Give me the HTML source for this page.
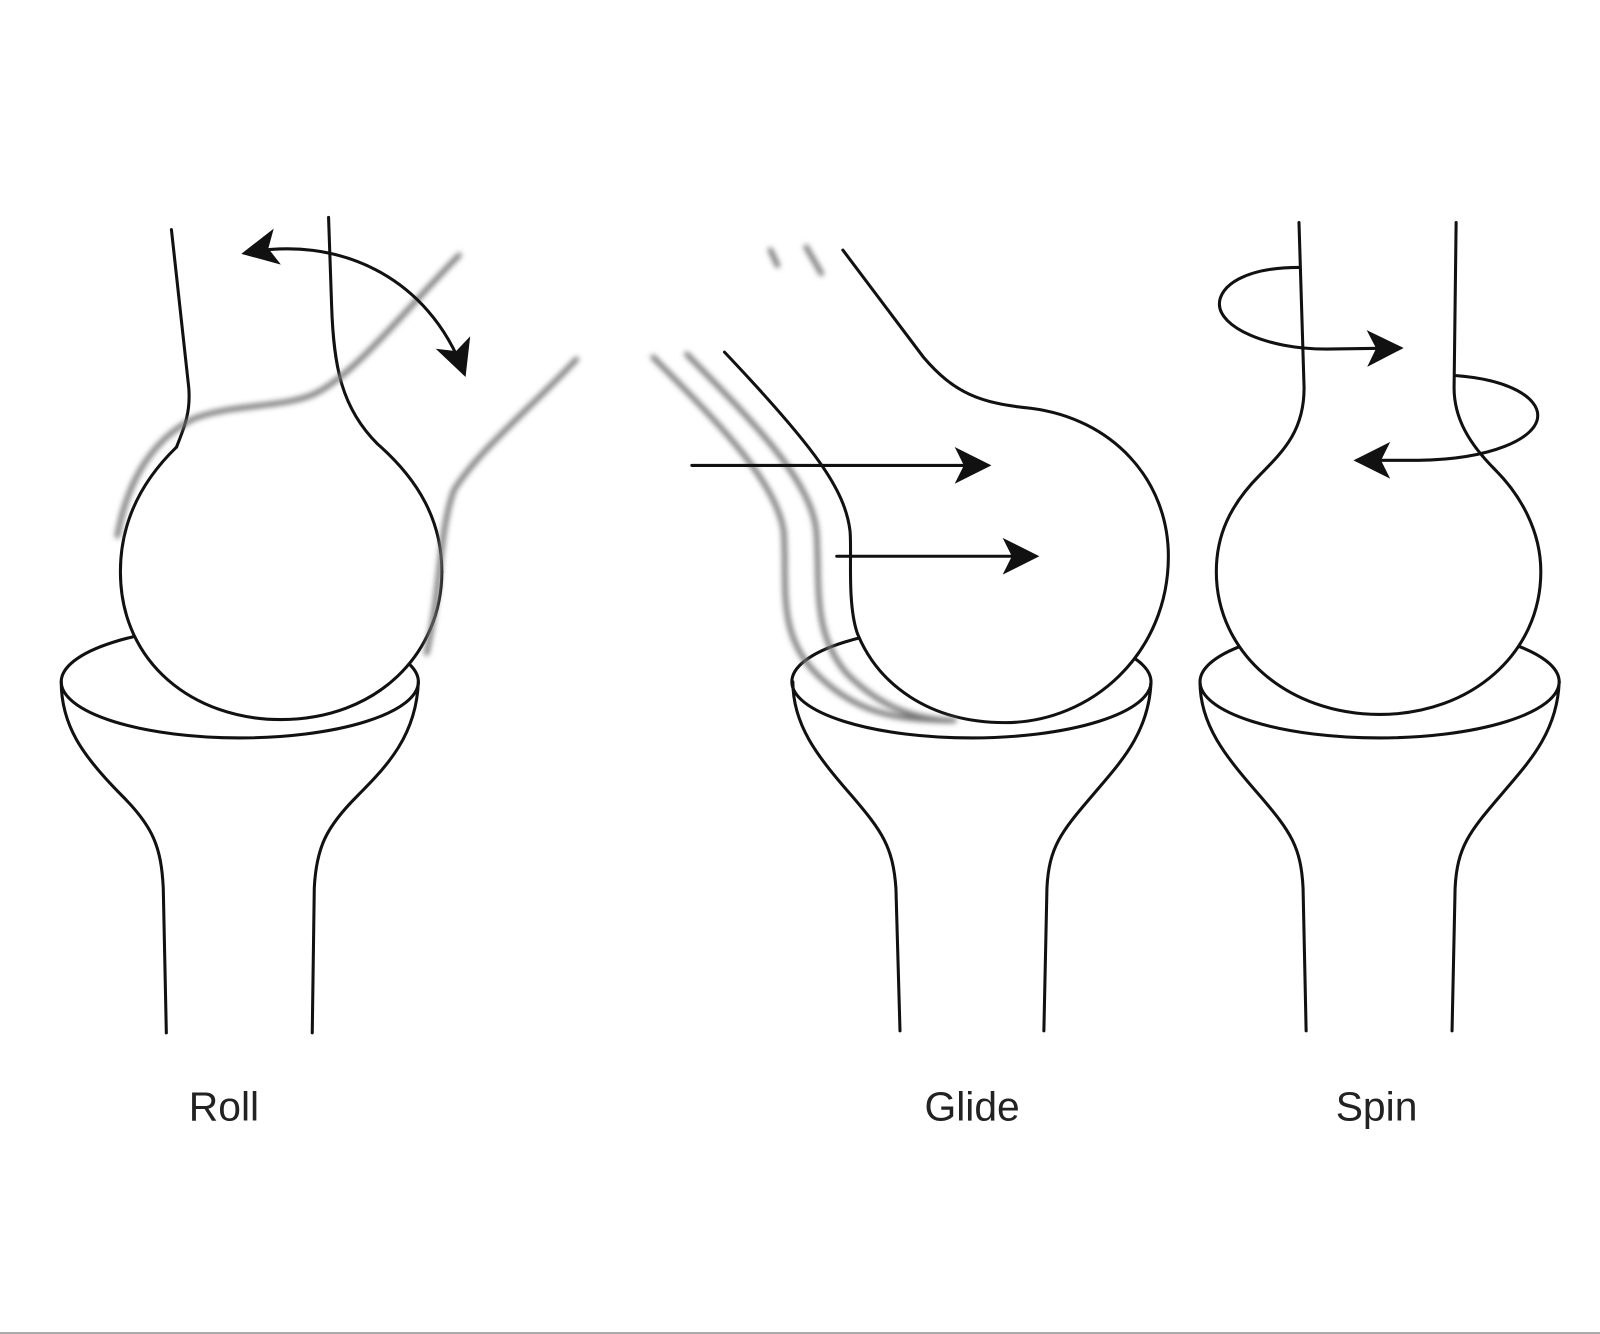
<!DOCTYPE html>
<html><head><meta charset="utf-8"><style>
html,body{margin:0;padding:0;background:#fff;}
svg{display:block;}
text{font-family:"Liberation Sans",sans-serif;font-size:40px;fill:#222;}
</style></head><body>
<svg width="1600" height="1334" viewBox="0 0 1568 1307" preserveAspectRatio="none" xmlns="http://www.w3.org/2000/svg">
<defs>
<filter id="b" x="-20%" y="-20%" width="140%" height="140%"><feGaussianBlur stdDeviation="2.5"/></filter>
<marker id="ah" viewBox="0 0 10 10" refX="9" refY="5" markerWidth="44" markerHeight="36" orient="auto-start-reverse" markerUnits="userSpaceOnUse"><path d="M0,0 L10,5 L0,10 L2.5,5 z" fill="#111"/></marker>
</defs>
<rect width="1568" height="1307" fill="#fff"/>
<line x1="0" y1="1306" x2="1568" y2="1306" stroke="#aaa" stroke-width="2"/>
<g fill="none" stroke="#111" stroke-width="3" stroke-linecap="round">
<!-- bases -->
<ellipse cx="235" cy="668" rx="175" ry="55"/>
<path d="M60,668 C60,710 80,740 120,780 C150,810 158,830 160,870 L163,1012"/>
<path d="M410,668 C408,720 380,750 350,780 C320,810 310,830 308,870 L306,1012"/>
<ellipse cx="952" cy="668" rx="176" ry="55"/>
<path d="M777,668 C777,710 800,740 835,780 C865,815 875,830 878,870 L882,1010"/>
<path d="M1128,668 C1126,720 1095,750 1070,780 C1040,815 1028,830 1026,870 L1023,1010"/>
<ellipse cx="1352" cy="668" rx="176" ry="55"/>
<path d="M1176,668 C1176,710 1200,740 1235,780 C1265,815 1275,830 1277,870 L1280,1010"/>
<path d="M1528,668 C1526,720 1495,750 1470,780 C1440,815 1428,830 1426,870 L1423,1010"/>

<!-- ROLL ball -->
<path fill="#fff" d="M173,438 C140,470 118,510 118,560 C118,650 190,705 275,705 C370,705 433,640 433,560 C433,510 410,470 370,435 C335,400 327,360 325,300 L325,438 Z" stroke="none"/>
<path d="M168,225 L185,380 C187,405 180,420 173,438"/>
<path d="M322,213 L325,300 C327,360 335,400 370,435 C410,470 433,510 433,560"/>
<path d="M173,438 C140,470 118,510 118,560 C118,650 190,705 275,705 C370,705 433,640 433,560"/>
<g stroke="#777" stroke-width="5" filter="url(#b)">
<path d="M115,525 C125,470 150,430 190,410 C230,395 280,400 310,385 C350,365 400,300 450,250"/>
<path d="M565,352 C520,400 470,440 445,480 C430,520 432,580 418,640"/>
</g>
<path d="M240,248 C330,230 420,270 455,366" marker-start="url(#ah)" marker-end="url(#ah)"/>

<!-- GLIDE ball -->
<path fill="#fff" d="M826,245 L905,350 C935,385 960,395 1010,400 C1090,410 1145,470 1145,545 C1145,640 1070,708 985,708 C910,708 860,670 840,620 C830,590 835,540 833,520 C828,480 800,440 710,345"/>
<g stroke="#777" stroke-width="5" filter="url(#b)">
<path d="M640,350 C700,410 760,470 768,520 C772,570 760,620 800,660 C840,700 880,705 930,706"/>
<path d="M673,347 C735,410 795,470 800,520 C804,570 795,620 830,660 C865,695 900,705 935,706"/>
<path d="M755,245 L762,260"/><path d="M790,242 L805,268"/>
</g>
<path d="M678,456 L968,456" marker-end="url(#ah)"/>
<path d="M820,545 L1015,545" marker-end="url(#ah)"/>

<!-- SPIN ball -->
<path fill="#fff" d="M1273,218 L1278,380 C1278,420 1260,440 1235,465 C1205,495 1192,525 1192,560 C1192,640 1262,700 1352,700 C1442,700 1510,640 1510,560 C1510,520 1490,485 1465,460 C1440,435 1425,410 1425,380 L1427,218"/>
<path d="M1273,262 C1220,262 1195,280 1195,298 C1195,320 1240,342 1300,342 L1372,341" marker-end="url(#ah)"/>
<path d="M1427,368 C1480,372 1507,390 1507,407 C1507,430 1460,450 1390,451 L1330,451" marker-end="url(#ah)"/>
</g>
<text x="185" y="1098">Roll</text>
<text x="906" y="1098">Glide</text>
<text x="1309" y="1098">Spin</text>
</svg>
</body></html>
